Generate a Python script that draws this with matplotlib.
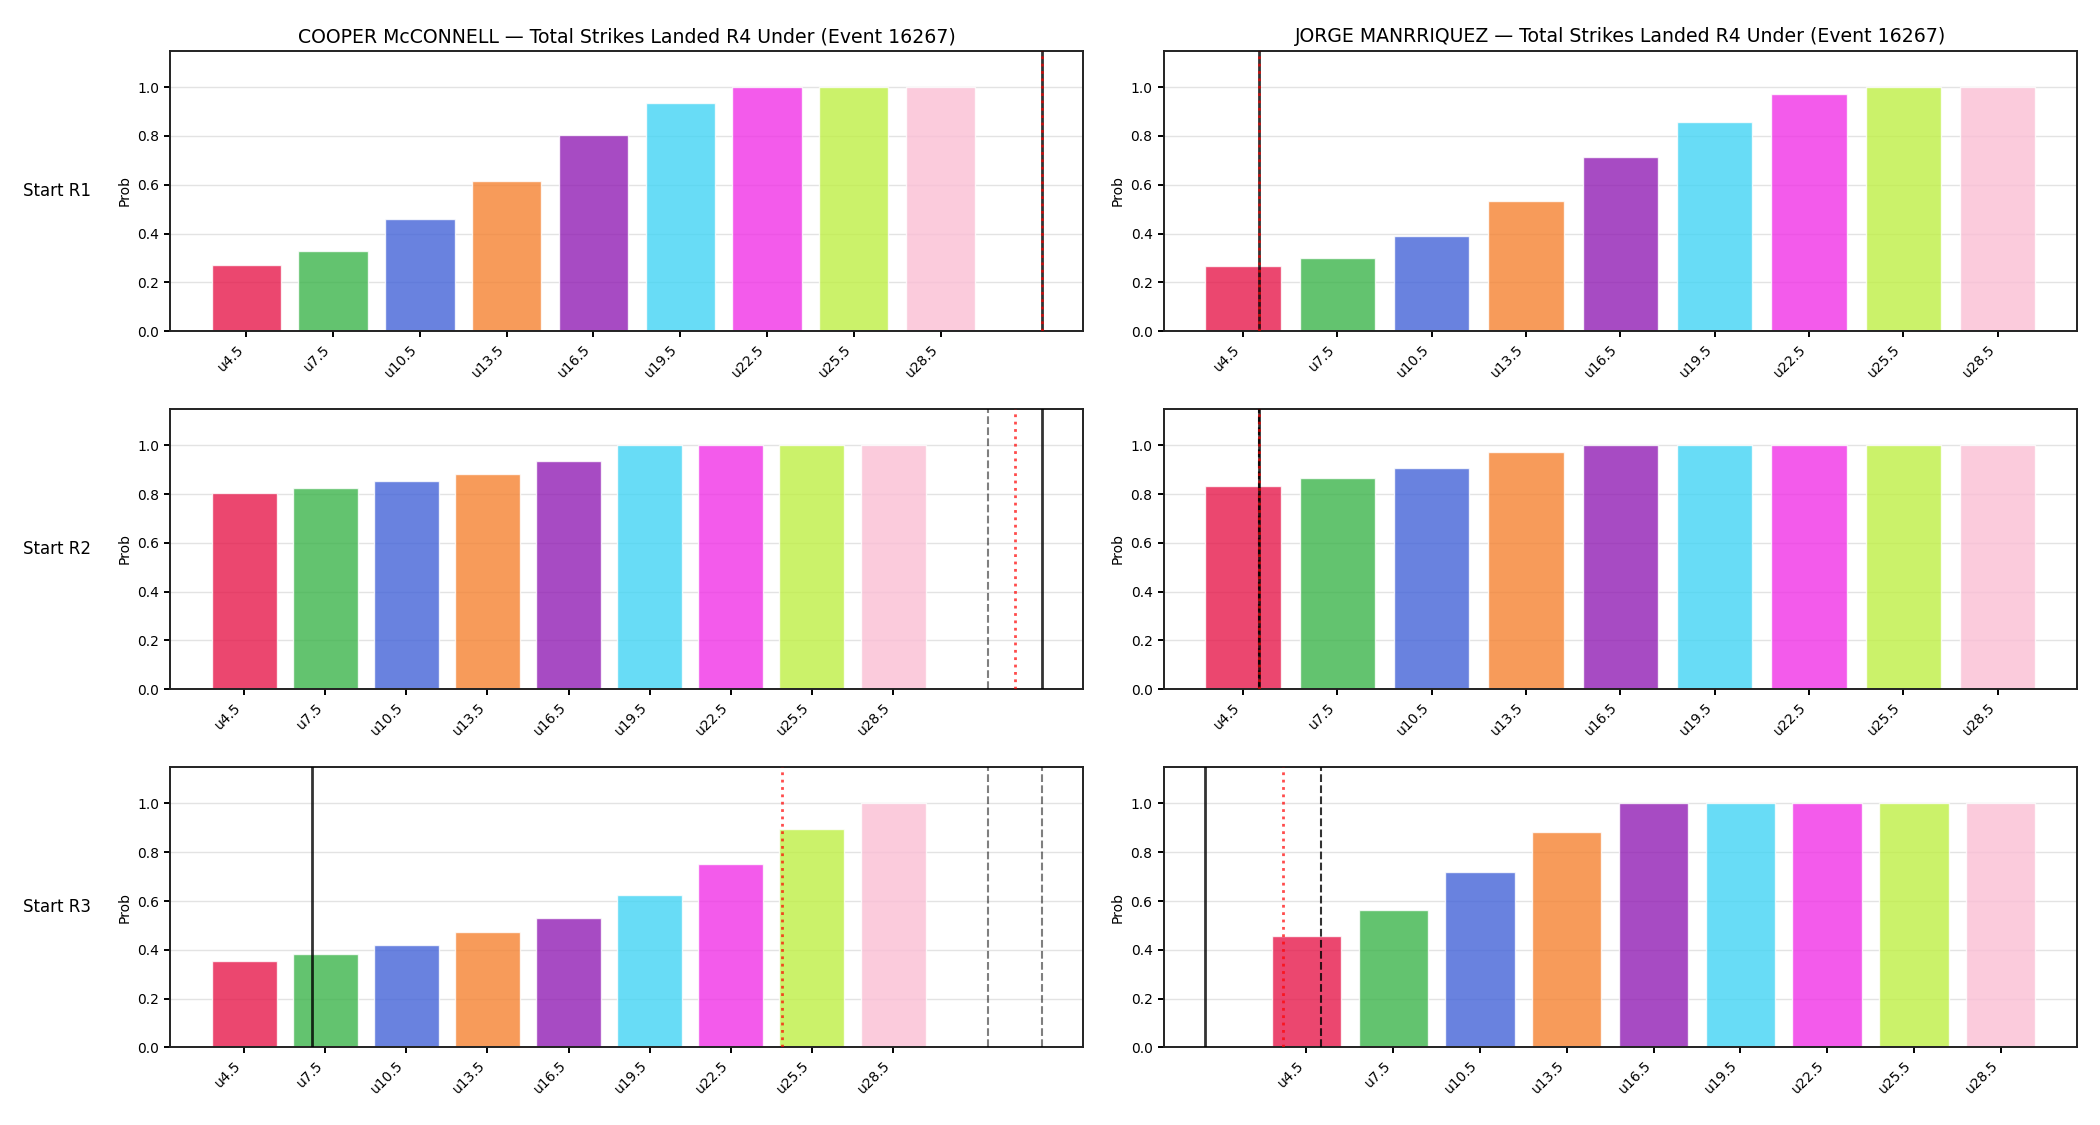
# Under-line probability grid: 2 fighters x 3 start rounds
import matplotlib
matplotlib.use("Agg")
import matplotlib.pyplot as plt

lines = [4.5, 7.5, 10.5, 13.5, 16.5, 19.5, 22.5, 25.5, 28.5]
labels = [f"u{v}" for v in lines]

fighters = ["COOPER McCONNELL", "JORGE MANRRIQUEZ"]
rounds = ["Start R1", "Start R2", "Start R3"]

colors = ["#e6194b", "#3cb44b", "#4363d8", "#f58231", "#911eb4",
          "#42d4f4", "#f032e6", "#bfef45", "#fabed4"]

# P(under) per line, per start round
cooper_r1 = [0.270, 0.329, 0.459, 0.615, 0.804, 0.936, 1.0, 1.0, 1.0]
cooper_r2 = [0.803, 0.825, 0.855, 0.882, 0.937, 1.0, 1.0, 1.0, 1.0]
cooper_r3 = [0.354, 0.383, 0.419, 0.473, 0.530, 0.624, 0.751, 0.895, 1.0]
jorge_r1 = [0.266, 0.299, 0.389, 0.533, 0.714, 0.856, 0.971, 1.0, 1.0]
jorge_r2 = [0.833, 0.866, 0.907, 0.973, 1.0, 1.0, 1.0, 1.0, 1.0]
jorge_r3 = [0.456, 0.563, 0.719, 0.883, 1.0, 1.0, 1.0, 1.0, 1.0]

# reference markers in strikes: current (solid), projection (dotted), other (dashed)
cooper_current = [32, 34, 7]
cooper_proj = [32, 33, 24.4]
cooper_dash = [[], [32], [32, 34]]
jorge_current = [5, 5, 1]
jorge_proj = [5, 5, 3.7]
jorge_dash = [[], [5], [5]]

probs = [[cooper_r1, jorge_r1], [cooper_r2, jorge_r2], [cooper_r3, jorge_r3]]
current = [cooper_current, jorge_current]
proj = [cooper_proj, jorge_proj]
dash = [cooper_dash, jorge_dash]
dash_dark = [False, True]

plt.rcParams.update({
    "axes.linewidth": 1.4,
    "axes.edgecolor": "#222222",
    "xtick.major.width": 1.4,
    "ytick.major.width": 1.4,
    "xtick.major.size": 4.5,
    "ytick.major.size": 4.5,
})

fig, axes = plt.subplots(3, 2, figsize=(21, 11.25), dpi=100)
fig.subplots_adjust(left=0.081, right=0.989, bottom=0.069, top=0.955,
                    wspace=0.088, hspace=0.277)


def to_idx(v):
    # strike count -> bar position
    return (v - lines[0]) / (lines[1] - lines[0])


xs = list(range(len(lines)))

for r in range(3):
    for c in range(2):
        ax = axes[r, c]
        ax.bar(xs, probs[r][c], width=0.8, color=colors, alpha=0.8,
               edgecolor="white", linewidth=1, zorder=2)

        ax.axvline(to_idx(current[c][r]), color="k", alpha=0.8, lw=2, zorder=3)
        for d in dash[c][r]:
            ax.axvline(to_idx(d), color="k", alpha=0.8 if dash_dark[c] else 0.5,
                       lw=1.5, ls="--", zorder=3)
        ax.axvline(to_idx(proj[c][r]), color="red", alpha=0.7, lw=2, ls=":",
                   zorder=4)

        ax.set_ylim(0, 1.15)
        ax.set_yticks([0, 0.2, 0.4, 0.6, 0.8, 1.0])
        ax.set_xticks(xs)
        ax.set_xticklabels(labels, rotation=45, ha="right")
        ax.set_ylabel("Prob")
        ax.grid(True, axis="y", color="#e3e3e3", lw=1, zorder=0)
        ax.set_axisbelow(True)

        if r == 0:
            ax.set_title(f"{fighters[c]} — Total Strikes Landed R4 Under (Event 16267)",
                         fontsize=13.6)
        if c == 0:
            ax.text(-0.087, 0.5, rounds[r], transform=ax.transAxes,
                    ha="right", va="center", fontsize=12)

plt.savefig("out.png", dpi=100)
plt.close()
